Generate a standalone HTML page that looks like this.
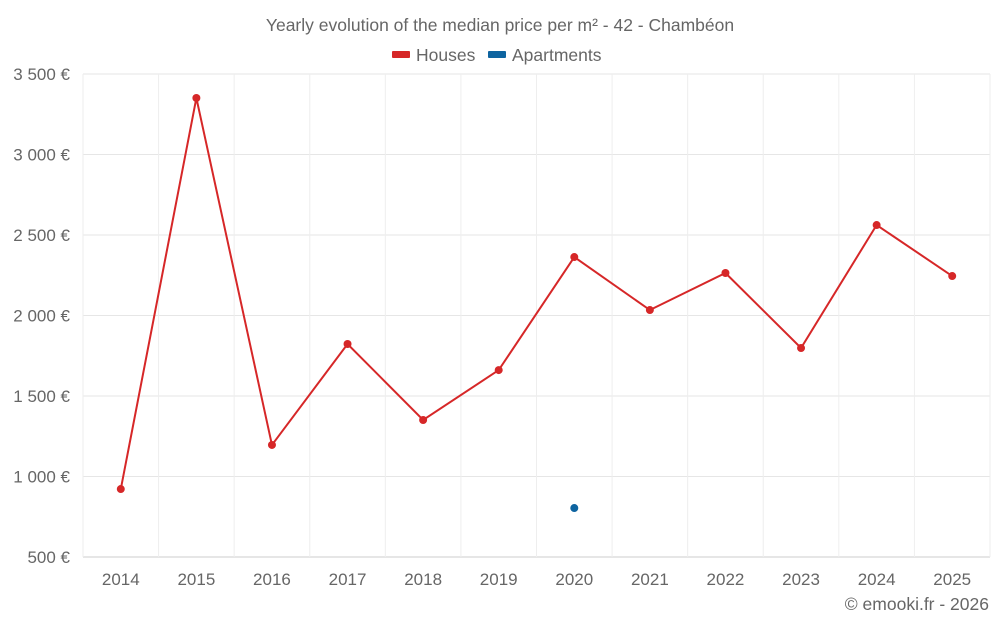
<!DOCTYPE html>
<html><head><meta charset="utf-8"><style>
body{margin:0;background:#fff;font-family:"Liberation Sans",sans-serif;}
svg text{font-family:"Liberation Sans",sans-serif;fill:#666;}
</style></head><body>
<svg id="chart" width="1000" height="625" xmlns="http://www.w3.org/2000/svg">
<text x="500" y="31" text-anchor="middle" font-size="17.5">Yearly evolution of the median price per m² - 42 - Chambéon</text>
<g>
<rect x="392" y="51" width="18" height="7" fill="#d62728" rx="1"/>
<text x="416" y="61" font-size="17.5">Houses</text>
<rect x="488" y="51" width="18" height="7" fill="#0e64a0" rx="1"/>
<text x="512" y="61" font-size="17.5">Apartments</text>
</g>
<g id="grid"></g><g id="axes"></g><g id="series"></g>
<text x="989" y="610" text-anchor="end" font-size="17.5">© emooki.fr - 2026</text>
</svg>
<script>
const years=["2014","2015","2016","2017","2018","2019","2020","2021","2022","2023","2024","2025"];
const houses=[922,3351,1196,1823,1351,1661,2363,2034,2264,1798,2562,2245];
const apartments=[null,null,null,null,null,null,804,null,null,null,null,null];
const yTicks=[500,1000,1500,2000,2500,3000,3500];
const yTickLabels=["500 €","1 000 €","1 500 €","2 000 €","2 500 €","3 000 €","3 500 €"];
const NS="http://www.w3.org/2000/svg";
const L=83,R=990,T=74,B=557,ymin=500,ymax=3500;
const bw=(R-L)/years.length;
function x(i){return L+bw*(i+0.5);}
function y(v){return B-(v-ymin)/(ymax-ymin)*(B-T);}
function mk(tag,attrs,parent){const e=document.createElementNS(NS,tag);for(const k in attrs)e.setAttribute(k,attrs[k]);parent.appendChild(e);return e;}
const grid=document.getElementById('grid'),axes=document.getElementById('axes'),series=document.getElementById('series');
yTicks.forEach((t,i)=>{
 const l=mk('line',{x1:L,x2:R,y1:y(t),y2:y(t),stroke:i===0?'#ccc':'#e6e6e6','stroke-width':1},grid);
 
 
 const tx=mk('text',{x:70,y:y(t)+6,'text-anchor':'end','font-size':17},axes);
 tx.textContent=yTickLabels[i];
 
 
});
for(let i=0;i<=years.length;i++){
 const gx=L+bw*i;
 const l=mk('line',{x1:gx,x2:gx,y1:T,y2:B,stroke:'#eee','stroke-width':1},grid);
 
 
}
years.forEach((yr,i)=>{
 const tx=mk('text',{x:x(i),y:585,'text-anchor':'middle','font-size':17},axes);
 tx.textContent=yr;
 
 
});
const pts=houses.map((v,i)=>v==null?null:x(i)+','+y(v)).filter(p=>p);
const pl=mk('polyline',{points:pts.join(' '),fill:'none',stroke:'#d62728','stroke-width':2},series);


houses.forEach((v,i)=>{if(v==null)return;
 const c=mk('circle',{cx:x(i),cy:y(v),r:4,fill:'#d62728'},series);
 
 
});
apartments.forEach((v,i)=>{if(v==null)return;
 const c=mk('circle',{cx:x(i),cy:y(v),r:4,fill:'#0e64a0'},series);
 
 
});
</script>
</body></html>
